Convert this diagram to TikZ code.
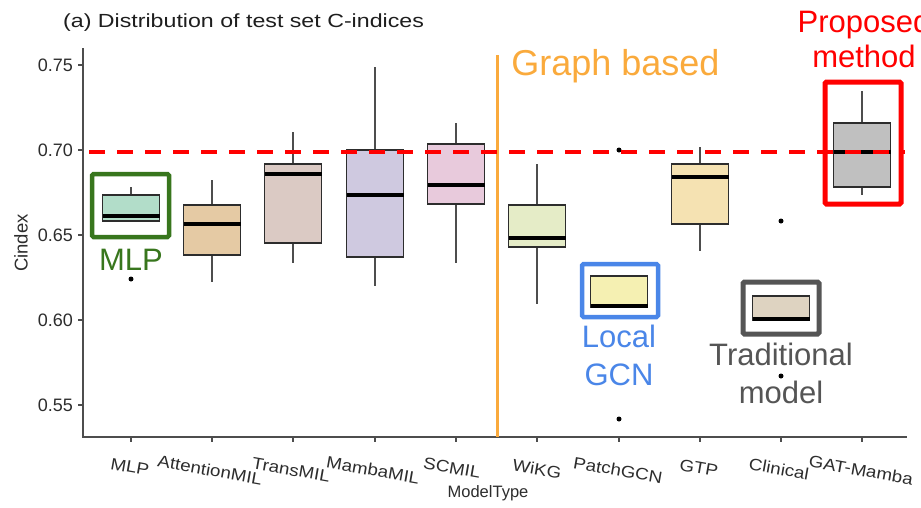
\documentclass[tikz,border=0pt]{standalone}
\usepackage{fontspec}
\setmainfont{Liberation Sans}
\newfontfamily\widefont[FakeStretch=1.14]{Liberation Sans}
\newfontfamily\ttlfont[FakeStretch=1.22]{Liberation Sans}
\definecolor{axisgray}{RGB}{77,77,77}
\definecolor{txtgray}{RGB}{45,45,45}
\definecolor{mlpf}{RGB}{178,221,201}
\definecolor{attf}{RGB}{229,202,164}
\definecolor{trnf}{RGB}{219,202,196}
\definecolor{mamf}{RGB}{207,201,224}
\definecolor{scmf}{RGB}{232,202,220}
\definecolor{wikf}{RGB}{229,236,199}
\definecolor{patf}{RGB}{245,240,178}
\definecolor{gtpf}{RGB}{245,226,178}
\definecolor{clif}{RGB}{222,211,193}
\definecolor{gatf}{RGB}{192,192,192}
\definecolor{hlgreen}{RGB}{56,118,29}
\definecolor{hlblue}{RGB}{74,134,232}
\definecolor{hlgray}{RGB}{85,85,85}
\definecolor{hlorange}{RGB}{250,170,60}
\newcommand\bxplot[7]{%
  \draw[whisk] (#1,#2) -- (#1,#3) (#1,#5) -- (#1,#6);
  \filldraw[boxst, fill=#7] (#1-28.5,#3) rectangle (#1+28.5,#5);
  \draw[medst] (#1-28.5,#4) -- (#1+28.5,#4);
}
\tikzset{
  whisk/.style={draw=axisgray, line width=1.5pt},
  boxst/.style={draw=txtgray, line width=1.6pt},
  medst/.style={draw=black, line width=3.2pt},
  outl/.style={fill=black},
  axisline/.style={draw=axisgray, line width=1.5pt},
  tickln/.style={draw=axisgray, line width=1.3pt},
  ticklab/.style={font=\fontsize{18}{20}\selectfont, text=txtgray, anchor=east, inner sep=0pt},
  xlab/.style={font=\widefont\fontsize{16.5}{18}\selectfont, text=txtgray, rotate=-10, inner sep=0pt},
  hlbox/.style={line width=#1, rounded corners=1.5pt},
  annot/.style={font=\fontsize{31}{36}\selectfont, anchor=base, inner sep=0pt},
  refline/.style={draw=red, line width=3.5pt, dash pattern=on 16pt off 12pt},
}
\begin{document}
\begin{tikzpicture}[x=1pt, y=-1pt]
\useasboundingbox (0,0) rectangle (921,507);
\fill[white] (0,0) rectangle (921,507);
% title
\node[font=\ttlfont\fontsize{19}{21}\selectfont, text={rgb,255:red,30;green,30;blue,30}, anchor=base west, inner sep=0pt] (title) at (63,27) {(a) Distribution of test set C-indices};
% axes
\coordinate (ytop) at (83,48);
\coordinate (orig) at (83,437);
\coordinate (xend) at (907,437);
\draw[axisline] (ytop) -- (orig) -- (xend);
\foreach \v/\yy in {0.75/65,0.70/150,0.65/235,0.60/320,0.55/405}{
  \draw[tickln] (78,\yy) -- (83,\yy);
  \node[ticklab] at (73,\yy) {\v};
}
\node[font=\fontsize{18.5}{20}\selectfont, text=txtgray, rotate=90, inner sep=0pt] (ylab) at (21,243) {Cindex};
\foreach \xx in {131,212,293,375,456,537,619,700,781,862}{
  \draw[tickln] (\xx,437) -- (\xx,442);
}
% x labels
\node[xlab] (l1) at (130,467) {MLP};
\node[xlab] (l2) at (210,470) {AttentionMIL};
\node[xlab] (l3) at (291,470) {TransMIL};
\node[xlab] (l4) at (373,470) {MambaMIL};
\node[xlab] (l5) at (452,468) {SCMIL};
\node[xlab] (l6) at (537,469) {WiKG};
\node[xlab] (l7) at (618,470) {PatchGCN};
\node[xlab] (l8) at (699,468) {GTP};
\node[xlab] (l9) at (779,469) {Clinical};
\node[xlab] (l10) at (861,470) {GAT-Mamba};
\node[font=\fontsize{16.5}{18}\selectfont, text=txtgray, inner sep=0pt] (xtitle) at (488,493) {ModelType};
% boxplots
\bxplot{131}{187}{195}{216}{221}{221}{mlpf}
\bxplot{212}{180}{205}{224}{255}{282}{attf}
\bxplot{293}{132}{164}{174}{243}{263}{trnf}
\bxplot{375}{67}{150}{195}{257}{286}{mamf}
\bxplot{456}{123}{144}{185}{204}{263}{scmf}
\bxplot{537}{164}{205}{238}{247}{304}{wikf}
\bxplot{619}{276}{276}{306}{307}{307}{patf}
\bxplot{700}{147}{164}{177}{224}{251}{gtpf}
\bxplot{781}{296}{296}{319}{320}{320}{clif}
\bxplot{862}{91}{123}{152}{187}{195}{gatf}
% outliers
\fill[outl] (131,279) circle (2.5pt);
\fill[outl] (619,150) circle (2.5pt);
\fill[outl] (619,419) circle (2.5pt);
\fill[outl] (781,221) circle (2.5pt);
\fill[outl] (781,376) circle (2.5pt);
% graph-based separator
\coordinate (gtop) at (497,55);
\coordinate (gbot) at (497,437);
\draw[draw=hlorange, line width=3pt] (gtop) -- (gbot);
\node[font=\fontsize{36}{40}\selectfont, text=hlorange, anchor=base, inner sep=0pt] (graphlab) at (615.5,75) {Graph based};
% reference line
\coordinate (rl1) at (89,152);
\coordinate (rl2) at (905,152);
\draw[refline] (rl1) -- (rl2);
% highlight boxes
\draw[hlbox=4.5pt, draw=hlgreen] (92,174) rectangle (169,237);
\draw[hlbox=4.5pt, draw=hlblue] (582,264) rectangle (658,317);
\draw[hlbox=5pt, draw=hlgray] (743,282) rectangle (819,334);
\draw[hlbox=5pt, draw=red] (825,82) rectangle (901,204);
% annotations
\node[annot, text=hlgreen] (amlp) at (131,270) {MLP};
\node[annot, text=hlblue] (aloc1) at (619,347) {Local};
\node[annot, text=hlblue] (aloc2) at (619,385) {GCN};
\node[annot, text=hlgray] (atrad1) at (781,365) {Traditional};
\node[annot, text=hlgray] (atrad2) at (781,403) {model};
\node[annot, text=red] (aprop1) at (864,32) {Proposed};
\node[annot, text=red] (aprop2) at (864,67) {method};
\end{tikzpicture}
\end{document}
